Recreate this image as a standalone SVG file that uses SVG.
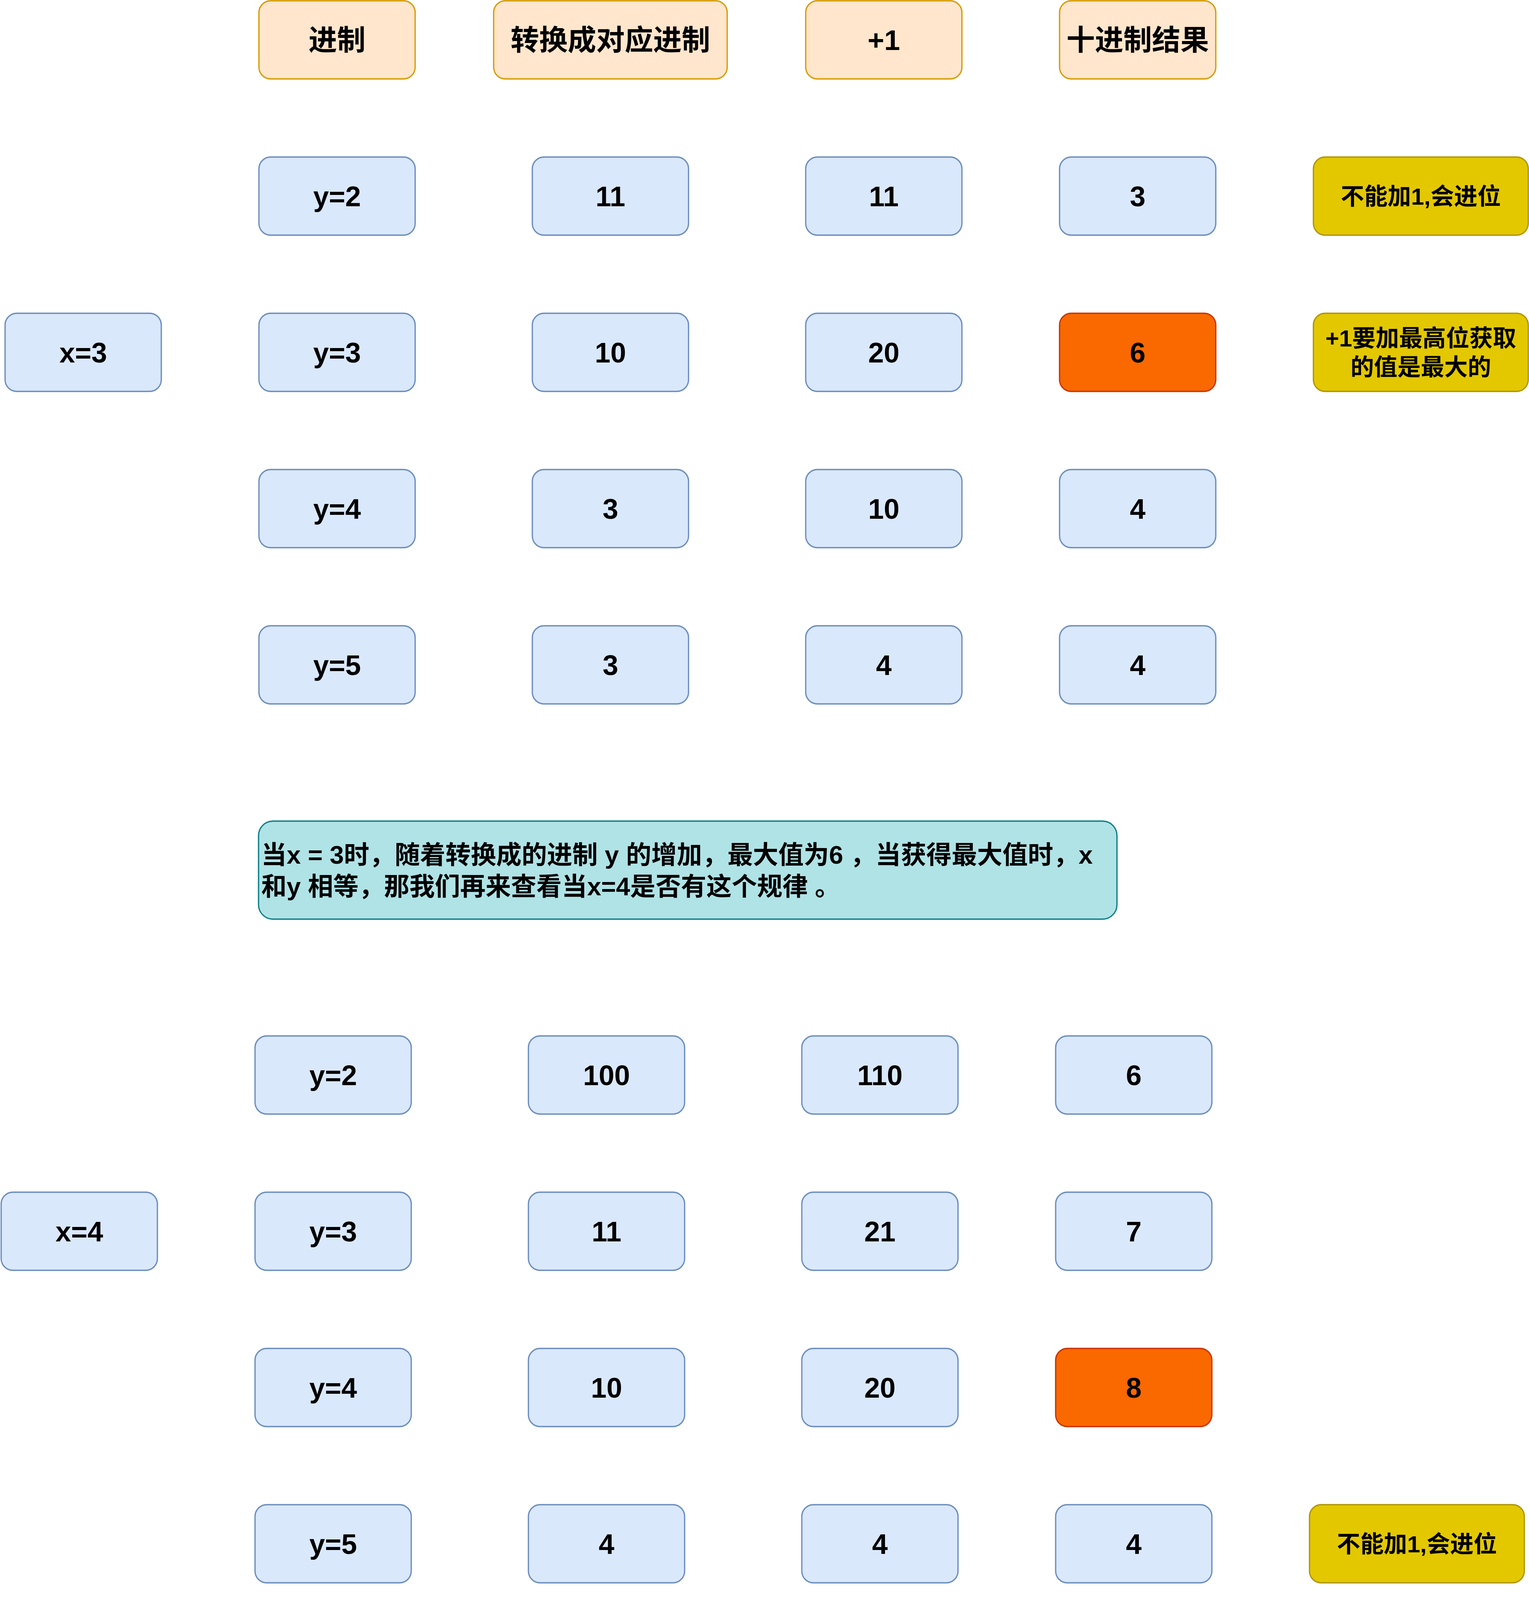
<svg xmlns="http://www.w3.org/2000/svg" width="3915" height="5005" viewBox="0 0 3915 5005">
<style>
text{font-family:"Liberation Sans","Noto Sans CJK SC",sans-serif;font-weight:bold;fill:#000}
.c{text-anchor:middle;font-size:72px}
.h{text-anchor:middle;font-size:73px}
.yt{text-anchor:middle;font-size:60px}
.t{font-size:65px}
rect{stroke-width:3.3}
.hd{fill:#ffe6cc;stroke:#d79b00}
.b{fill:#dae8fc;stroke:#6c8ebf}
.o{fill:#fa6800;stroke:#c73500}
.y{fill:#e3c800;stroke:#b09500}
.n{fill:#b0e3e6;stroke:#0e8088}
</style>
<rect width="3915" height="5005" fill="#ffffff"/>
<g id="connectors"/>
<g id="h-jinzhi"><rect class="hd" x="663" y="2" width="400" height="200" rx="30"/><text class="h" x="863" y="128">进制</text></g>
<g id="h-convert"><rect class="hd" x="1264" y="2" width="598" height="200" rx="30"/><text class="h" x="1563" y="128">转换成对应进制</text></g>
<g id="h-plus1"><rect class="hd" x="2063" y="2" width="400" height="200" rx="30"/><text class="h" x="2263" y="128">+1</text></g>
<g id="h-result"><rect class="hd" x="2713" y="2" width="400" height="200" rx="30"/><text class="h" x="2913" y="128">十进制结果</text></g>
<g id="x3"><rect class="b" x="13" y="802" width="400" height="200" rx="30"/><text class="c" x="213" y="928">x=3</text></g>
<g id="a-y2"><rect class="b" x="663" y="402" width="400" height="200" rx="30"/><text class="c" x="863" y="528">y=2</text></g>
<g id="a-y3"><rect class="b" x="663" y="802" width="400" height="200" rx="30"/><text class="c" x="863" y="928">y=3</text></g>
<g id="a-y4"><rect class="b" x="663" y="1202" width="400" height="200" rx="30"/><text class="c" x="863" y="1328">y=4</text></g>
<g id="a-y5"><rect class="b" x="663" y="1602" width="400" height="200" rx="30"/><text class="c" x="863" y="1728">y=5</text></g>
<g id="a-c2"><rect class="b" x="1363" y="402" width="400" height="200" rx="30"/><text class="c" x="1563" y="528">11</text></g>
<g id="a-c3"><rect class="b" x="1363" y="802" width="400" height="200" rx="30"/><text class="c" x="1563" y="928">10</text></g>
<g id="a-c4"><rect class="b" x="1363" y="1202" width="400" height="200" rx="30"/><text class="c" x="1563" y="1328">3</text></g>
<g id="a-c5"><rect class="b" x="1363" y="1602" width="400" height="200" rx="30"/><text class="c" x="1563" y="1728">3</text></g>
<g id="a-p2"><rect class="b" x="2063" y="402" width="400" height="200" rx="30"/><text class="c" x="2263" y="528">11</text></g>
<g id="a-p3"><rect class="b" x="2063" y="802" width="400" height="200" rx="30"/><text class="c" x="2263" y="928">20</text></g>
<g id="a-p4"><rect class="b" x="2063" y="1202" width="400" height="200" rx="30"/><text class="c" x="2263" y="1328">10</text></g>
<g id="a-p5"><rect class="b" x="2063" y="1602" width="400" height="200" rx="30"/><text class="c" x="2263" y="1728">4</text></g>
<g id="a-r2"><rect class="b" x="2713" y="402" width="400" height="200" rx="30"/><text class="c" x="2913" y="528">3</text></g>
<g id="a-r3"><rect class="o" x="2713" y="802" width="400" height="200" rx="30"/><text class="c" x="2913" y="928">6</text></g>
<g id="a-r4"><rect class="b" x="2713" y="1202" width="400" height="200" rx="30"/><text class="c" x="2913" y="1328">4</text></g>
<g id="a-r5"><rect class="b" x="2713" y="1602" width="400" height="200" rx="30"/><text class="c" x="2913" y="1728">4</text></g>
<g id="a-note1"><rect class="y" x="3363" y="402" width="550" height="200" rx="30"/><text class="yt" x="3638" y="524">不能加1,会进位</text></g>
<g id="a-note2"><rect class="y" x="3363" y="802" width="550" height="200" rx="30"/><text class="yt" x="3638" y="887">+1要加最高位获取</text><text class="yt" x="3638" y="961">的值是最大的</text></g>
<g id="text1"><rect class="n" x="662" y="2102" width="2198" height="251" rx="37"/>
<text class="t" x="669" y="2211" xml:space="preserve">当x = 3时，随着转换成的进制 y 的增加，最大值为6 ，当获得最大值时，x</text>
<text class="t" x="669" y="2292" xml:space="preserve">和y 相等，那我们再来查看当x=4是否有这个规律 。</text></g>
<g id="x4"><rect class="b" x="3" y="3052" width="400" height="200" rx="30"/><text class="c" x="203" y="3178">x=4</text></g>
<g id="b-y2"><rect class="b" x="653" y="2652" width="400" height="200" rx="30"/><text class="c" x="853" y="2778">y=2</text></g>
<g id="b-y3"><rect class="b" x="653" y="3052" width="400" height="200" rx="30"/><text class="c" x="853" y="3178">y=3</text></g>
<g id="b-y4"><rect class="b" x="653" y="3452" width="400" height="200" rx="30"/><text class="c" x="853" y="3578">y=4</text></g>
<g id="b-y5"><rect class="b" x="653" y="3852" width="400" height="200" rx="30"/><text class="c" x="853" y="3978">y=5</text></g>
<g id="b-c2"><rect class="b" x="1353" y="2652" width="400" height="200" rx="30"/><text class="c" x="1553" y="2778">100</text></g>
<g id="b-c3"><rect class="b" x="1353" y="3052" width="400" height="200" rx="30"/><text class="c" x="1553" y="3178">11</text></g>
<g id="b-c4"><rect class="b" x="1353" y="3452" width="400" height="200" rx="30"/><text class="c" x="1553" y="3578">10</text></g>
<g id="b-c5"><rect class="b" x="1353" y="3852" width="400" height="200" rx="30"/><text class="c" x="1553" y="3978">4</text></g>
<g id="b-p2"><rect class="b" x="2053" y="2652" width="400" height="200" rx="30"/><text class="c" x="2253" y="2778">110</text></g>
<g id="b-p3"><rect class="b" x="2053" y="3052" width="400" height="200" rx="30"/><text class="c" x="2253" y="3178">21</text></g>
<g id="b-p4"><rect class="b" x="2053" y="3452" width="400" height="200" rx="30"/><text class="c" x="2253" y="3578">20</text></g>
<g id="b-p5"><rect class="b" x="2053" y="3852" width="400" height="200" rx="30"/><text class="c" x="2253" y="3978">4</text></g>
<g id="b-r2"><rect class="b" x="2703" y="2652" width="400" height="200" rx="30"/><text class="c" x="2903" y="2778">6</text></g>
<g id="b-r3"><rect class="b" x="2703" y="3052" width="400" height="200" rx="30"/><text class="c" x="2903" y="3178">7</text></g>
<g id="b-r4"><rect class="o" x="2703" y="3452" width="400" height="200" rx="30"/><text class="c" x="2903" y="3578">8</text></g>
<g id="b-r5"><rect class="b" x="2703" y="3852" width="400" height="200" rx="30"/><text class="c" x="2903" y="3978">4</text></g>
<g id="b-note1"><rect class="y" x="3353" y="3852" width="550" height="200" rx="30"/><text class="yt" x="3628" y="3974">不能加1,会进位</text></g>
<g id="text2"><rect class="n" x="662" y="4202" width="2198" height="251" rx="37"/>
<text class="t" x="669" y="4311" xml:space="preserve">当x = 4时，随着转换成的进制 y 的增加，最大值为8 ，当获得最大值时，x</text>
<text class="t" x="669" y="4392" xml:space="preserve">和y 相等 。</text></g>
<g id="text3"><rect class="n" x="11" y="4602" width="3302" height="401" rx="60"/>
<text class="t" x="19" y="4707" xml:space="preserve">当x &gt;= 3时，当获得最大值时，x和y 相等，转成十进制后的结果为x*2，此时n 要减1，如果n &gt;0 那么需要继续在此</text>
<text class="t" x="19" y="4786" xml:space="preserve">基础上面进行计算。</text>
<text class="t" x="19" y="4943" xml:space="preserve">当x = 4, n = 2时，第一次的结果为 4*2 = 8 ，然后在8的基础上， 8*2 = 16，即 x*2^n .</text></g>
</svg>
